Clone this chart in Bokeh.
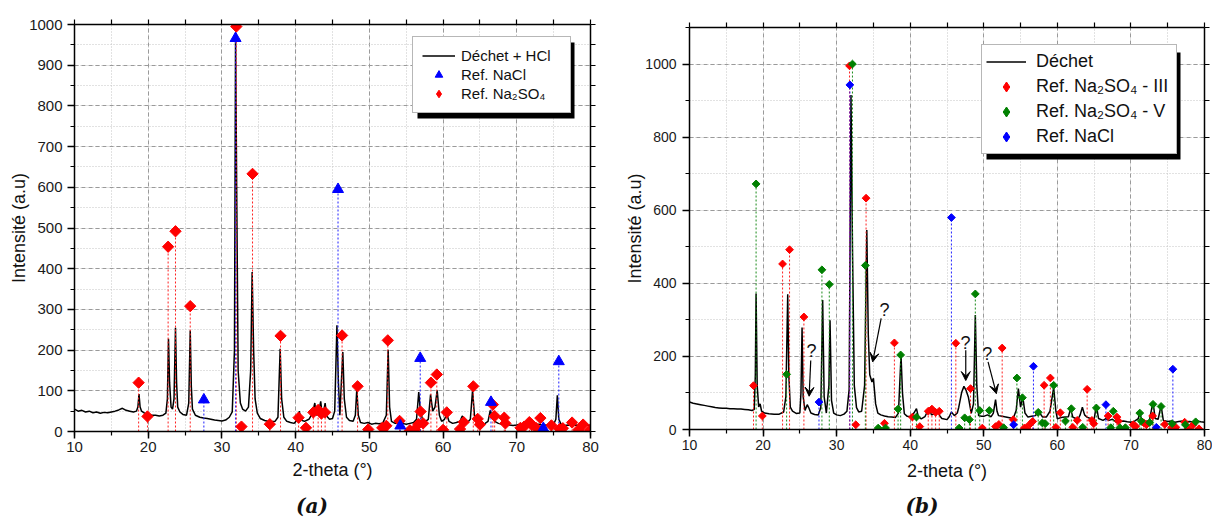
import numpy as np
from bokeh.plotting import figure
from bokeh.layouts import row, column
from bokeh.models import (FixedTicker, LinearAxis, Range1d, Legend, LegendItem,
                          BoxAnnotation, Label, Arrow, VeeHead, Div)
from bokeh.embed import file_html
from bokeh.resources import INLINE

FONT = "Liberation Sans"

# ---------------- data: chart (a) ----------------
a_trace = [(10.0,55),(10.5,50),(11.0,52),(11.5,48),(12.0,50),(12.5,46),(13.0,48),(13.5,45),(14.0,47),
           (14.5,46),(15.0,48),(15.5,50),(16.0,53),(16.5,57),(17.0,52),(17.5,50),(18.0,48),(18.4,50),
           (18.6,60),(18.75,92),(18.9,60),(19.1,50),(19.5,45),(20.0,42),(20.5,40),(21.0,40),(21.5,38),
           (22.0,40),(22.4,45),(22.6,80),(22.75,228),(22.9,120),(23.1,60),(23.3,55),(23.5,80),(23.7,255),
           (23.85,120),(24.0,60),(24.3,48),(24.7,42),(25.2,40),(25.5,70),(25.7,248),(25.85,110),(26.0,55),
           (26.4,40),(27.0,35),(27.5,33),(28.0,32),(28.5,30),(29.0,28),(29.5,27),(30.0,26),(30.5,28),
           (31.0,35),(31.4,48),(31.7,200),(31.85,980),(32.0,600),(32.2,150),(32.5,70),(32.8,55),(33.2,50),
           (33.6,60),(33.9,150),(34.1,392),(34.3,200),(34.5,80),(34.8,45),(35.2,32),(35.8,27),(36.5,24),
           (37.2,25),(37.6,35),(37.9,203),(38.1,80),(38.4,35),(38.8,25),(39.3,22),(39.8,20),(40.3,30),
           (40.5,50),(40.7,28),(41.2,25),(41.8,30),(42.3,45),(42.6,70),(42.8,40),(43.1,45),(43.4,74),
           (43.6,42),(43.8,50),(44.0,70),(44.2,38),(44.6,30),(45.0,32),(45.3,50),(45.6,261),(45.8,120),
           (46.0,40),(46.2,120),(46.4,195),(46.6,80),(46.9,35),(47.3,27),(47.8,25),(48.1,40),(48.3,105),
           (48.5,40),(48.8,22),(49.3,20),(49.8,22),(50.3,18),(50.8,20),(51.3,19),(51.8,20),(52.3,40),
           (52.55,201),(52.75,60),(53.0,25),(53.5,20),(54.0,19),(54.5,20),(55.0,18),(55.5,20),(56.0,22),
           (56.4,30),(56.7,97),(56.9,55),(57.2,30),(57.6,25),(58.0,30),(58.3,91),(58.6,50),(58.9,60),
           (59.2,101),(59.5,40),(59.8,25),(60.2,30),(60.5,43),(60.8,25),(61.3,20),(61.8,22),(62.3,25),
           (62.6,38),(62.9,30),(63.3,22),(63.7,30),(64.0,101),(64.3,30),(64.7,20),(65.2,18),(65.7,20),
           (66.1,25),(66.4,52),(66.7,35),(67.0,25),(67.5,20),(68.0,18),(68.5,20),(69.0,16),(69.5,15),
           (70.0,16),(70.5,18),(71.0,15),(71.5,17),(72.0,14),(72.5,16),(73.0,18),(73.5,15),(74.0,16),
           (74.5,15),(75.0,17),(75.3,30),(75.5,89),(75.7,30),(76.0,18),(76.5,15),(77.0,16),(77.5,14),
           (78.0,16),(78.5,15),(79.0,14),(79.5,16),(80.0,15)]

a_nacl = [(27.55,78),(31.85,966),(45.75,595),(54.2,14),(56.9,180),(66.5,72),(73.6,8),(75.7,172)]

a_na2so4 = [(18.7,120),(19.9,37),(22.7,454),(23.7,492),(25.7,308),(31.95,995),(32.65,12),(34.15,633),
            (36.5,18),(37.95,235),(40.4,34),(41.4,9),(42.4,47),(43.05,53),(43.5,44),(44.0,47),
            (46.3,236),(48.4,111),(49.85,5),(51.75,9),(52.3,14),(52.5,224),(54.1,26),(55.5,3),
            (56.15,5),(56.65,18),(56.95,49),(57.3,20),(58.35,120),(59.15,140),(60.0,4),(60.5,47),
            (62.3,6),(62.8,23),(64.1,111),(64.7,31),(65.0,17),(66.75,66),(67.0,38),(68.3,34),
            (68.45,20),(70.5,9),(71.0,12),(71.7,23),(72.0,17),(72.6,9),(73.2,33),(74.7,15),
            (75.8,6),(76.25,8),(77.5,22),(78.35,4),(79.0,17),(79.9,3)]

# ---------------- data: chart (b) ----------------
b_trace = [(10.0,75),(10.5,72),(11.0,70),(11.5,68),(12.0,66),(12.5,64),(13.0,62),(13.5,60),(14.0,59),
           (14.5,58),(15.0,58),(15.5,57),(16.0,57),(16.5,56),(17.0,56),(17.5,55),(18.0,54),(18.5,52),
           (18.8,55),(18.95,150),(19.05,372),(19.2,120),(19.4,62),(19.6,70),(19.8,50),(20.2,45),
           (20.8,43),(21.5,42),(22.2,42),(22.8,48),(23.1,90),(23.35,370),(23.5,150),(23.7,61),(24.0,50),
           (24.5,44),(25.0,45),(25.15,100),(25.3,279),(25.45,90),(25.7,52),(26.0,68),(26.2,60),(26.5,45),
           (27.0,41),(27.5,40),(27.85,60),(28.1,354),(28.3,90),(28.6,45),(28.95,120),(29.1,299),(29.3,80),
           (29.6,45),(30.0,40),(30.5,38),(31.0,42),(31.4,50),(31.7,110),(31.95,915),(32.15,500),(32.4,120),
           (32.7,60),(33.0,48),(33.4,50),(33.8,120),(34.1,546),(34.3,260),(34.5,150),(34.8,130),(35.0,140),
           (35.3,70),(35.6,45),(36.0,40),(36.5,37),(37.0,35),(37.5,34),(38.0,33),(38.4,45),(38.75,203),
           (38.95,100),(39.2,43),(39.6,36),(40.0,35),(40.5,45),(40.85,57),(41.1,35),(41.5,29),(42.0,35),
           (42.3,48),(42.6,57),(42.9,40),(43.2,42),(43.8,52),(44.0,38),(44.3,30),(45.0,27),(45.3,35),
           (45.6,48),(46.0,38),(46.4,45),(46.6,61),(47.0,102),(47.3,118),(47.6,107),(47.9,89),(48.3,44),
           (48.6,70),(48.85,313),(49.05,120),(49.3,38),(49.7,36),(50.0,36),(50.5,40),(51.0,35),(51.3,45),
           (51.6,82),(51.8,50),(52.0,38),(52.5,36),(53.0,34),(53.5,32),(54.0,30),(54.4,52),(54.7,112),
           (55.0,61),(55.3,89),(55.6,45),(56.0,34),(56.5,36),(57.0,38),(57.5,48),(58.0,34),(58.5,34),
           (59.0,50),(59.5,115),(59.8,50),(60.0,29),(60.5,33),(61.0,34),(61.5,35),(61.8,57),(62.1,34),
           (62.5,30),(62.8,28),(63.1,40),(63.4,61),(63.7,40),(64.0,34),(64.5,30),(65.0,28),(65.3,66),
           (65.6,30),(66.2,25),(66.6,30),(67.0,25),(67.5,28),(68.0,20),(68.5,22),(69.0,23),(69.5,21),
           (70.0,20),(70.5,23),(71.0,30),(71.2,45),(71.5,25),(72.0,22),(72.5,24),(73.0,75),(73.3,30),
           (73.7,28),(74.1,66),(74.4,25),(75.0,22),(75.5,23),(76.0,20),(76.5,22),(77.0,23),(77.5,21),
           (78.0,22),(78.5,20),(79.0,23),(79.5,21),(80.0,20)]

b_na2so4_iii = [(18.7,120),(19.9,37),(22.65,453),(23.6,492),(25.55,308),(31.75,995),(32.6,13),(34.0,633),
                (36.5,17),(37.85,237),(40.3,34),(41.3,8),(42.45,50),(42.95,56),(43.45,47),(43.95,50),
                (46.2,236),(48.2,112),(49.8,4),(51.6,8),(52.05,14),(52.5,223),(54.0,27),(55.5,4),
                (55.8,5),(56.35,16),(56.65,22),(58.2,121),(59.05,141),(59.8,6),(60.4,46),(62.1,6),
                (62.7,25),(64.05,110),(64.7,25),(64.95,16),(66.9,37),(68.1,34),(68.3,23),(70.3,13),
                (70.65,9),(71.75,18),(72.1,13),(72.95,37),(74.6,14),(75.5,5),(76.1,6),(77.3,20),
                (77.85,2),(78.45,13),(79.25,2)]

b_na2so4_v = [(19.05,672),(23.2,151),(28.0,437),(29.0,397),(32.15,1000),(33.9,449),(35.65,4),(36.65,4),
              (38.35,56),(38.7,204),(40.85,34),(46.65,4),(47.4,32),(48.05,27),(48.85,371),(49.45,52),
              (50.75,52),(52.7,5),(54.5,141),(55.25,87),(57.4,47),(57.95,18),(58.35,16),(59.5,121),
              (61.1,23),(61.9,57),(63.45,6),(65.3,59),(67.25,5),(67.6,50),(68.5,5),(69.25,5),
              (71.2,45),(71.4,23),(72.55,19),(73.0,69),(74.1,63),(75.6,16),(77.4,13),(78.8,21)]

b_nacl = [(27.6,75),(31.8,943),(45.6,580),(54.05,13),(56.75,173),(66.6,68),(73.45,6),(75.7,165)]

x_ticks = [10, 20, 30, 40, 50, 60, 70, 80]
x_minor = [10, 15, 20, 25, 30, 35, 40, 45, 50, 55, 60, 65, 70, 75, 80]
a_y_ticks = [0, 100, 200, 300, 400, 500, 600, 700, 800, 900, 1000]
a_y_minor = [0, 50, 100, 150, 200, 250, 300, 350, 400, 450, 500, 550, 600, 650, 700, 750, 800, 850, 900, 950, 1000]
b_y_ticks = [0, 200, 400, 600, 800, 1000]
b_y_minor = [0, 100, 200, 300, 400, 500, 600, 700, 800, 900, 1000, 1100]


def split(pairs):
    return [p[0] for p in pairs], [p[1] for p in pairs]


# ---------------- layout geometry (page pixels) ----------------
WA, WB = 606, 606
HF = 483
A_L, A_R, A_T, A_B = 74, 590, 24, 431
B_L, B_R, B_T, B_B = 689, 1204, 27, 429


def style(p, yt_major, yt_minor, tick_size, lab_standoff, axlab_standoff, xlab_standoff):
    xt = FixedTicker(ticks=x_ticks, minor_ticks=x_minor)
    yt = FixedTicker(ticks=yt_major, minor_ticks=yt_minor)
    bottom = p.below[0]
    left = p.left[0]
    bottom.ticker = xt
    left.ticker = yt
    p.xgrid.ticker = xt
    p.ygrid.ticker = yt
    p.outline_line_color = None
    for g in (p.xgrid, p.ygrid):
        g.grid_line_color = "#9a9a9a"
        g.grid_line_dash = "4 3"
        g.grid_line_width = 1
        g.minor_grid_line_color = "#c4c4c4"
        g.minor_grid_line_dash = "1 2"
        g.minor_grid_line_width = 1
    # mirrored axes: tick marks only, no labels
    top = LinearAxis(ticker=FixedTicker(ticks=[], minor_ticks=x_minor))
    right = LinearAxis(ticker=FixedTicker(ticks=[], minor_ticks=yt_minor))
    p.add_layout(top, "above")
    p.add_layout(right, "right")
    for ax in (top, right, bottom, left):
        ax.axis_line_color = "black"
        ax.axis_line_width = 1.5
        ax.major_tick_line_color = "black"
        ax.major_tick_line_width = 1.5
        ax.major_tick_out = 7
        ax.major_tick_in = 0
        ax.minor_tick_line_color = "black"
        ax.minor_tick_line_width = 1.2
        ax.minor_tick_out = 4
        ax.minor_tick_in = 0
    for ax in (top, right):
        ax.minor_tick_out = 5
        ax.major_label_standoff = 0
    for ax in (bottom, left):
        ax.major_label_text_font = FONT
        ax.major_label_text_font_size = tick_size
        ax.major_label_text_color = "#1a1a1a"
        ax.axis_label_text_font = FONT
        ax.axis_label_text_font_style = "normal"
        ax.axis_label_text_font_size = "18px"
        ax.axis_label_text_color = "#111111"
    bottom.major_label_standoff = 3
    left.major_label_standoff = lab_standoff
    bottom.axis_label_standoff = xlab_standoff
    left.axis_label_standoff = axlab_standoff
    bottom.axis_label = "2-theta (°)"
    left.axis_label = "Intensité (a.u)"


# ================= chart (a) =================
pa = figure(width=WA, height=HF, x_range=Range1d(10, 80), y_range=Range1d(0, 1000),
            output_backend="svg", toolbar_location=None,
            min_border_left=A_L, min_border_right=WA - A_R,
            min_border_top=A_T, min_border_bottom=HF - A_B)
style(pa, a_y_ticks, a_y_minor, "15px", 5, -3, 5)


def ax_(px):
    return 10 + (px - A_L) * 70.0 / (A_R - A_L)


def ay_(py):
    return (A_B - py) * 1000.0 / (A_B - A_T)


tx, ty = split(a_trace)
ra_line = pa.line(tx, ty, line_color="black", line_width=1.5)
nx, ny = split(a_nacl)
sx, sy = split(a_na2so4)
pa.segment(x0=sx, y0=[0] * len(sx), x1=sx, y1=sy, line_color="#ff2020", line_dash="2 2", line_width=1)
pa.segment(x0=nx, y0=[0] * len(nx), x1=nx, y1=ny, line_color="#2020ff", line_dash="2 2", line_width=1)
pa.scatter(sx, sy, marker="square", angle=np.pi / 4, size=8, fill_color="#ff0000", line_color="#ff0000")
ra_nacl = pa.scatter(nx, ny, marker="triangle", size=11, fill_color="#0000ff", line_color="#0000ff")
# legend key only (a single point placed outside the visible range)
ra_na2_key = pa.scatter([0], [-5000], marker="diamond", size=13, fill_color="#ff0000", line_color="#ff0000")

pa.add_layout(BoxAnnotation(left=ax_(417), right=ax_(574), top=ay_(42), bottom=ay_(118),
                            fill_color="black", fill_alpha=1, line_color=None))
leg_a = Legend(items=[LegendItem(label="Déchet + HCl", renderers=[ra_line]),
                      LegendItem(label="Ref. NaCl", renderers=[ra_nacl]),
                      LegendItem(label="Ref. Na₂SO₄", renderers=[ra_na2_key])],
               location=(412 - A_L, A_B - 113), orientation="vertical", padding=9, spacing=0,
               label_height=19, glyph_height=19, glyph_width=33, label_standoff=6, label_width=100,
               label_text_font=FONT, label_text_font_size="15px", label_text_color="#111111",
               border_line_color="#707070", border_line_width=1.5,
               background_fill_color="white", background_fill_alpha=1, margin=0)
pa.add_layout(leg_a)

# ================= chart (b) =================
pb = figure(width=WB, height=HF, x_range=Range1d(10, 80), y_range=Range1d(0, 1100),
            output_backend="svg", toolbar_location=None,
            min_border_left=B_L - WA, min_border_right=WA + WB - B_R,
            min_border_top=B_T, min_border_bottom=HF - B_B)
style(pb, b_y_ticks, b_y_minor, "14px", 6, -3, 8)


def bx_(px):
    return 10 + (px - B_L) * 70.0 / (B_R - B_L)


def by_(py):
    return (B_B - py) * 1100.0 / (B_B - B_T)


tx, ty = split(b_trace)
rb_line = pb.line(tx, ty, line_color="black", line_width=1.5)
rx, ry = split(b_na2so4_iii)
gx, gy = split(b_na2so4_v)
bx, by = split(b_nacl)
pb.segment(x0=rx, y0=[0] * len(rx), x1=rx, y1=ry, line_color="#ff2020", line_dash="2 2", line_width=1)
pb.segment(x0=gx, y0=[0] * len(gx), x1=gx, y1=gy, line_color="#1a8a1a", line_dash="2 2", line_width=1)
pb.segment(x0=bx, y0=[0] * len(bx), x1=bx, y1=by, line_color="#2020ff", line_dash="2 2", line_width=1)
pb.scatter(rx, ry, marker="square", angle=np.pi / 4, size=5.5, fill_color="#ff0000", line_color="#ff0000")
pb.scatter(gx, gy, marker="square", angle=np.pi / 4, size=5.5, fill_color="#008000", line_color="#008000")
pb.scatter(bx, by, marker="square", angle=np.pi / 4, size=5.5, fill_color="#0000ff", line_color="#0000ff")
# legend keys only (a single point placed outside the visible range)
kb_r = pb.scatter([0], [-5000], marker="diamond", size=9, fill_color="#ff0000", line_color="#ff0000")
kb_g = pb.scatter([0], [-5000], marker="diamond", size=9, fill_color="#008000", line_color="#008000")
kb_b = pb.scatter([0], [-5000], marker="diamond", size=9, fill_color="#0000ff", line_color="#0000ff")

# question-mark annotations
q_text = [(26.58, 214), (36.5, 328), (47.5, 236), (50.48, 207)]
q_arrows = [((26.48, 189), (26.26, 91)), ((36.05, 304), (34.9, 185)),
            ((47.55, 217), (47.55, 134)), ((50.58, 185), (51.71, 98))]
for (qx, qy) in q_text:
    pb.add_layout(Label(x=qx, y=qy, text="?", text_font=FONT, text_font_size="18px",
                        text_align="center", text_baseline="middle", text_color="#111111"))
for (s, e) in q_arrows:
    pb.add_layout(Arrow(end=VeeHead(size=9, fill_color="black", line_color="black", line_width=1),
                        x_start=s[0], y_start=s[1], x_end=e[0], y_end=e[1],
                        line_color="black", line_width=1.2))

pb.add_layout(BoxAnnotation(left=bx_(986), right=bx_(1180), top=by_(52), bottom=by_(159),
                            fill_color="black", fill_alpha=1, line_color=None))
leg_b = Legend(items=[LegendItem(label="Déchet", renderers=[rb_line]),
                      LegendItem(label="Ref. Na₂SO₄ - III", renderers=[kb_r]),
                      LegendItem(label="Ref. Na₂SO₄ - V", renderers=[kb_g]),
                      LegendItem(label="Ref. NaCl", renderers=[kb_b])],
               location=(981 - B_L, B_B - 154), orientation="vertical", padding=4, spacing=0,
               label_height=25, glyph_height=25, glyph_width=40, label_standoff=10, label_width=136,
               label_text_font=FONT, label_text_font_size="18px", label_text_color="#111111",
               border_line_color="#707070", border_line_width=1.5,
               background_fill_color="white", background_fill_alpha=1, margin=0)
pb.add_layout(leg_b)

# ================= captions =================
CAP = ("box-sizing:border-box; width:{w}px; font-family:'DejaVu Serif'; font-weight:bold; "
       "font-style:italic; font-size:20px; line-height:20px; text-align:center; "
       "padding-top:13px; padding-left:{pl}px; color:#111;")
da = Div(text='<div style="{}">(a)</div>'.format(CAP.format(w=WA, pl=18)),
         width=WA, height=522 - HF, margin=0)
db = Div(text='<div style="{}">(b)</div>'.format(CAP.format(w=WB, pl=26)),
         width=WB, height=522 - HF, margin=0)

layout = row(column(pa, da, spacing=0), column(pb, db, spacing=0), spacing=0)
open("out.html", "w").write(file_html(layout, INLINE))
